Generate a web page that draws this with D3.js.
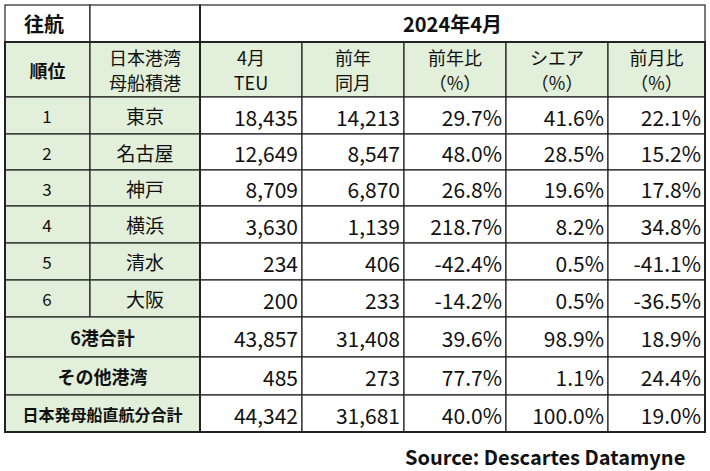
<!DOCTYPE html>
<html><head><meta charset="utf-8">
<script src="https://cdn.jsdelivr.net/npm/d3@7"></script>
<style>body{margin:0;background:#fff}</style></head>
<body>
<script>
const ports = ["東京", "名古屋", "神戸", "横浜", "清水", "大阪"]
const ranks = ["1", "2", "3", "4", "5", "6"]
const teu = ["18,435", "12,649", "8,709", "3,630", "234", "200"]
const prevYear = ["14,213", "8,547", "6,870", "1,139", "406", "233"]
const yoy = ["29.7%", "48.0%", "26.8%", "218.7%", "-42.4%", "-14.2%"]
const share = ["41.6%", "28.5%", "19.6%", "8.2%", "0.5%", "0.5%"]
const mom = ["22.1%", "15.2%", "17.8%", "34.8%", "-41.1%", "-36.5%"]
const sumLabels = ["6港合計", "その他港湾", "日本発母船直航分合計"]
const sumTeu = ["43,857", "485", "44,342"]
const sumPrev = ["31,408", "273", "31,681"]
const sumYoy = ["39.6%", "77.7%", "40.0%"]
const sumShare = ["98.9%", "1.1%", "100.0%"]
const sumMom = ["18.9%", "24.4%", "19.0%"]
const headers = [["順位"], ["日本港湾", "母船積港"], ["4月", "TEU"], ["前年", "同月"], ["前年比", "（%）"], ["シエア", "（%）"], ["前月比", "（%）"]]

const colX = [5, 90, 200, 302, 404, 506, 608, 705]
const rowY = [5, 42, 97, 134, 170, 206, 243, 280, 317, 357, 395, 432]
const green = "#e2efda", font = "'Noto Sans CJK JP', sans-serif"

const svg = d3.select('body').append('svg').attr('width', 710).attr('height', 471)
const g = svg.append('g')

function cell(x0, x1, y0, y1, fill) {
    g.append('rect').attr('x', x0).attr('y', y0).attr('width', x1 - x0).attr('height', y1 - y0)
        .attr('fill', fill).attr('stroke', '#222').attr('stroke-width', 1.2)
}
function text(t, x, y, anchor, size, weight) {
    g.append('text').attr('x', x).attr('y', y).attr('text-anchor', anchor).attr('dominant-baseline', 'central')
        .attr('font-family', font).attr('font-size', size).attr('font-weight', weight || 'normal').attr('fill', '#111').text(t)
}

// title row
cell(colX[0], colX[1], rowY[0], rowY[1], '#fff')
cell(colX[1], colX[2], rowY[0], rowY[1], '#fff')
cell(colX[2], colX[7], rowY[0], rowY[1], '#fff')
text("往航", 24, 23, 'start', 20, 'bold')
text("2024年4月", (colX[2] + colX[7]) / 2, 23, 'middle', 20, 'bold')

// header
headers.forEach((h, i) => {
    cell(colX[i], colX[i + 1], rowY[1], rowY[2], green)
    const cx = (colX[i] + colX[i + 1]) / 2
    if (h.length === 1) text(h[0], cx, 70, 'middle', 18, 'bold')
    else h.forEach((t, j) => text(t, cx, 57 + j * 25, 'middle', 18, i === 1 ? 'normal' : 'normal'))
})

function numCells(vals, y0, y1) {
    vals.forEach((v, i) => {
        cell(colX[i + 2], colX[i + 3], y0, y1, '#fff')
        text(v, colX[i + 3] - 4, (y0 + y1) / 2 + 1, 'end', 21)
    })
}

ports.forEach((p, r) => {
    const y0 = rowY[r + 2], y1 = rowY[r + 3]
    cell(colX[0], colX[1], y0, y1, green)
    cell(colX[1], colX[2], y0, y1, green)
    text(ranks[r], 47, (y0 + y1) / 2, 'middle', 17)
    text(p, 145, (y0 + y1) / 2, 'middle', 19)
    numCells([teu[r], prevYear[r], yoy[r], share[r], mom[r]], y0, y1)
})

sumLabels.forEach((l, r) => {
    const y0 = rowY[r + 8], y1 = rowY[r + 9]
    cell(colX[0], colX[2], y0, y1, green)
    text(l, (colX[0] + colX[2]) / 2, (y0 + y1) / 2, 'middle', r === 2 ? 16 : 18, 'bold')
    numCells([sumTeu[r], sumPrev[r], sumYoy[r], sumShare[r], sumMom[r]], y0, y1)
})

// thicker outer lines
g.append('rect').attr('x', colX[0]).attr('y', rowY[1]).attr('width', colX[7] - colX[0]).attr('height', rowY[11] - rowY[1])
    .attr('fill', 'none').attr('stroke', '#222').attr('stroke-width', 2)
g.append('line').attr('x1', colX[2]).attr('x2', colX[2]).attr('y1', rowY[0]).attr('y2', rowY[11]).attr('stroke', '#222').attr('stroke-width', 2)

svg.append('text').attr('x', 405).attr('y', 456).attr('dominant-baseline', 'central')
    .attr('font-family', font).attr('font-size', 20).attr('font-weight', 'bold').attr('fill', '#111')
    .text("Source:  Descartes Datamyne")
</script>
</body></html>
